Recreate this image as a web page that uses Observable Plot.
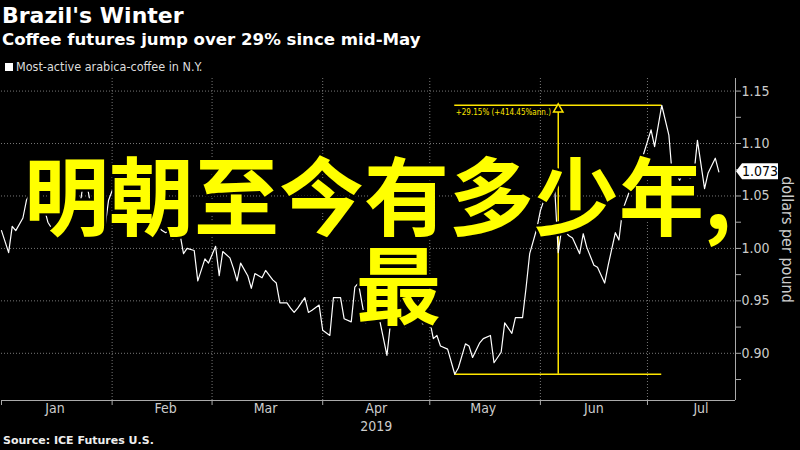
<!DOCTYPE html>
<html><head><meta charset="utf-8">
<script src="https://cdn.jsdelivr.net/npm/d3@7"></script>
<script src="https://cdn.jsdelivr.net/npm/@observablehq/plot@0.6"></script>
<style>
body{margin:0;background:#000;width:800px;height:450px;overflow:hidden;position:relative;font-family:"DejaVu Sans",sans-serif;}
#title{position:absolute;left:2px;top:1px;color:#fff;font-weight:bold;font-size:22px;line-height:30px;white-space:nowrap;}
#subtitle{position:absolute;left:2px;top:28px;color:#fff;font-weight:bold;font-size:16.6px;line-height:24px;white-space:nowrap;}
#legend{position:absolute;left:5px;top:60px;color:#ddd;font-family:"DejaVu Sans Condensed","Liberation Sans Narrow","DejaVu Sans",sans-serif;font-stretch:condensed;font-size:12.5px;line-height:14px;white-space:nowrap;}
#legend .sw{display:inline-block;width:8px;height:8px;background:#fff;margin-right:3px;vertical-align:0px;}
#chart{position:absolute;left:0;top:76px;}
#source{position:absolute;left:3px;top:434px;color:#eee;font-weight:bold;font-size:11px;line-height:14px;white-space:nowrap;}
#overlay{position:absolute;left:0;top:0;pointer-events:none;}
</style></head><body>
<div id="title">Brazil's Winter</div>
<div id="subtitle">Coffee futures jump over 29% since mid-May</div>
<div id="legend"><span class="sw"></span>Most-active arabica-coffee in N.Y.</div>
<div id="chart"></div>
<div id="source">Source: ICE Futures U.S.</div>
<svg id="overlay" width="800" height="450">
  <text font-family="'Noto Sans CJK SC','Noto Sans CJK JP',sans-serif" font-weight="700" font-size="85" fill="#ffff00" stroke="#000" stroke-width="5" paint-order="stroke" stroke-linejoin="round"><tspan x="24" y="229">明朝至今有多少年,</tspan><tspan x="356" y="318">最</tspan></text>
</svg>
<script>
// Days since 2019-01-01 for each reading
const dayOffsets = [0,2,3,4,6,7,8,9,10,12,13,15,16,17,19,20,22,23,24,25,27,29,30,31,33,34,36,37,39,40,41,43,45,46,47,48,50,51,52,54,55,57,58,60,61,62,64,65,66,67,69,70,71,73,74,76,77,78,80,81,82,83,85,86,87,89,90,92,93,95,96,98,99,100,102,103,104,106,108,109,111,112,113,115,117,118,120,121,122,123,125,127,128,130,131,132,134,135,137,138,140,141,143,144,146,147,148,150,151,152,153,155,156,157,159,160,162,163,164,166,167,169,170,172,173,174,176,177,178,180,182,183,185,187,188,189,190,191,193,194,195,197,198,200,201];
// Price, dollars per pound
const prices = [1.017,0.996,1.021,1.017,1.029,1.046,1.052,1.057,1.048,1.038,1.025,1.014,1.020,1.031,1.036,1.036,1.041,1.065,1.060,1.041,1.031,1.020,1.046,1.055,1.053,1.049,1.060,1.055,1.046,1.036,1.031,1.024,1.017,1.015,1.017,1.009,1.014,0.995,1.000,0.998,0.969,0.990,0.986,1.002,0.974,0.997,0.991,0.981,0.969,0.986,0.974,0.962,0.976,0.972,0.979,0.970,0.967,0.948,0.948,0.943,0.939,0.943,0.953,0.939,0.941,0.946,0.922,0.917,0.953,0.953,0.933,0.930,0.963,0.967,0.929,0.931,0.939,0.931,0.898,0.929,0.930,0.934,0.925,0.934,0.939,0.928,0.931,0.914,0.917,0.907,0.904,0.880,0.886,0.909,0.907,0.896,0.910,0.914,0.917,0.891,0.901,0.929,0.919,0.934,0.934,0.963,0.995,1.019,1.036,1.046,1.048,1.058,0.996,1.020,1.012,1.010,0.995,1.014,1.001,0.984,0.982,0.967,0.984,1.015,1.008,1.036,1.055,1.070,1.070,1.091,1.113,1.097,1.1365,1.108,1.067,1.072,1.065,1.072,1.067,1.070,1.103,1.057,1.072,1.086,1.073];
const monthLabels = ["Jan","Feb","Mar","Apr","May","Jun","Jul"];
const yearLabel = "2019";
const yTicks = [0.90,0.95,1.00,1.05,1.10,1.15];
const yMinorTicks = [0.875,0.925,0.975,1.025,1.075,1.125];
const changeLabel = "+29.15% (+414.45%ann.)";
const yAxisLabel = "dollars per pound";

const start = new Date(Date.UTC(2019,0,1));
const data = dayOffsets.map((d,i) => ({date: d3.utcDay.offset(start, d), price: prices[i]}));
const xDomain = [start, new Date(Date.UTC(2019,6,25,16))];
const yDomain = [0.855, 1.162];
const monthStarts = d3.utcMonth.range(start, xDomain[1]);
const monthMids = monthStarts.map(m => d3.utcDay.offset(m, 15));

// annotation derived from data
const lowI = d3.minIndex(data, d => d.price);
const highI = lowI + d3.maxIndex(data.slice(lowI), d => d.price);
const low = data[lowI], high = data[highI];
const mid = new Date((+low.date + +high.date)/2);

const Y = "#ffe600";
const condensed = "'DejaVu Sans Condensed','Liberation Sans Narrow','DejaVu Sans',sans-serif";

const chart = Plot.plot({
  width: 800, height: 360,
  marginLeft: 1, marginRight: 65, marginTop: 2, marginBottom: 36,
  style: {background: "#000", color: "#ccc", fontFamily: condensed, fontStretch: "condensed", overflow: "visible"},
  x: {type: "utc", domain: xDomain},
  y: {domain: yDomain},
  marks: [
    Plot.gridY(yTicks, {stroke: "#777", strokeOpacity: 1, strokeDasharray: "1,2"}),
    Plot.gridX(monthStarts.slice(1), {stroke: "#777", strokeOpacity: 1, strokeDasharray: "1,2"}),
    Plot.ruleY([yDomain[0]], {stroke: "#aaa"}),
    Plot.ruleX([xDomain[1]], {stroke: "#aaa"}),
    Plot.axisX({ticks: monthStarts, tickSize: 5, tickFormat: () => "", stroke: "#aaa", label: null}),
    Plot.axisX({ticks: monthMids, tickSize: 0, tickPadding: 3, tickFormat: d => monthLabels[d.getUTCMonth()], fill: "#ccc", fontSize: 14, label: null}),
    Plot.text([monthMids[3]], {x: d => d, frameAnchor: "bottom", dy: 30, text: () => yearLabel, fill: "#ccc", fontSize: 14}),
    Plot.axisY({anchor: "right", ticks: yTicks, tickSize: 5, tickPadding: 1, tickFormat: d3.format(".2f"), stroke: "#aaa", fill: "#ccc", fontSize: 14, label: null}),
    Plot.axisY({anchor: "right", ticks: yMinorTicks, tickSize: 5, tickFormat: () => "", stroke: "#aaa", label: null}),
    Plot.text([yAxisLabel], {frameAnchor: "right", dx: 52, rotate: 90, textAnchor: "middle", text: d => d, fill: "#ccc", fontSize: 16}),
    // annotation
    Plot.ruleY([low, high], {x1: low.date, x2: high.date, y: "price", stroke: Y, strokeWidth: 1.5}),
    Plot.ruleX([mid], {x: d => d, y1: low.price, y2: high.price, stroke: Y, strokeWidth: 1.5}),
    Plot.text([changeLabel], {x: low.date, y: high.price, text: d => d, textAnchor: "start", dx: 1, dy: 7, fill: Y, fontSize: 8}),
    Plot.line(data, {x: "date", y: "price", stroke: "#fff", strokeWidth: 1.2}),
    Plot.dot([high], {x: mid, y: "price", symbol: "triangle", r: 3.5, fill: "#000", stroke: Y, strokeWidth: 1.5, dy: 4})
  ]
});
document.getElementById("chart").appendChild(chart);

// last-value tag on the right axis
const last = data[data.length - 1];
const ly = chart.scale("y").apply(last.price);
const lx = chart.scale("x").apply(xDomain[1]);
const g = d3.select(chart).append("g");
g.append("path")
  .attr("d", `M${lx+1},${ly} L${lx+7},${ly-8} H${lx+43} V${ly+8} H${lx+7} Z`)
  .attr("fill", "#fff");
g.append("text")
  .attr("x", lx + 25).attr("y", ly).attr("dy", "0.35em")
  .attr("text-anchor", "middle").attr("fill", "#000").attr("font-size", 14)
  .attr("font-family", condensed)
  .text(d3.format(".3f")(last.price));
</script>
</body></html>
